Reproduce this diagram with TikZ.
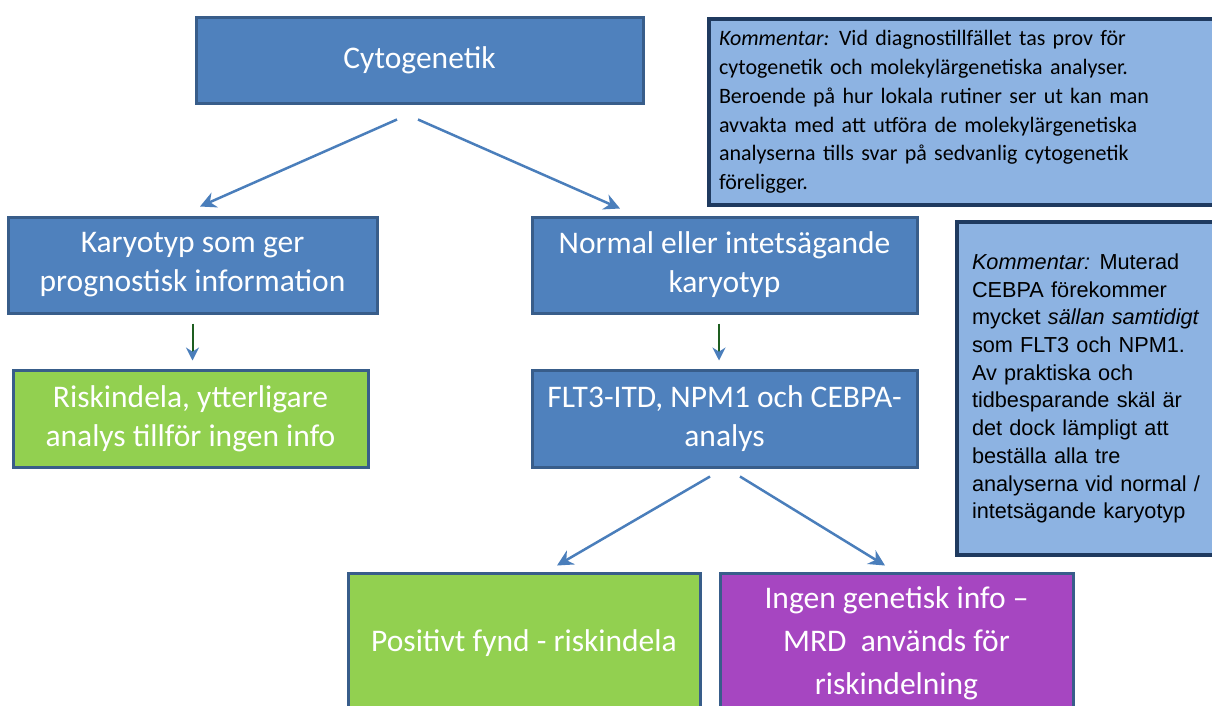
\documentclass[tikz,border=0pt]{standalone}
\usepackage{fontspec}
\setmainfont{Carlito}
\newfontfamily\arialfont{Liberation Sans}
\usetikzlibrary{arrows.meta,calc}
\definecolor{boxblue}{HTML}{4F81BD}
\definecolor{boxedge}{HTML}{385D8A}
\definecolor{noteblue}{HTML}{8DB3E2}
\definecolor{noteedge}{HTML}{1F3A5F}
\definecolor{boxgreen}{HTML}{92D050}
\definecolor{boxpurple}{HTML}{A646C1}
\definecolor{arrowblue}{HTML}{4A7EBB}
\definecolor{stemgreen}{HTML}{1E5E20}
\tikzstyle{box}=[draw=boxedge,line width=3pt,text=white,align=center,inner sep=0pt,font=\fontsize{31.5}{39}\selectfont]
\tikzstyle{blue box}=[box,fill=boxblue]
\tikzstyle{green box}=[box,fill=boxgreen]
\tikzstyle{purple box}=[box,fill=boxpurple]
\tikzstyle{note}=[draw=noteedge,line width=4pt,fill=noteblue,anchor=north west,align=left,inner ysep=0pt]
\tikzstyle{arrow}=[draw=arrowblue,line width=2.5pt,-{Stealth[length=16pt,width=16pt]}]
\tikzstyle{down arrow}=[draw=stemgreen,line width=2pt,-{Stealth[length=13pt,width=13pt,color=arrowblue]}]

\begin{document}
\begin{tikzpicture}[x=1pt,y=-1pt]
    \useasboundingbox (0,0) rectangle (1212,705);
    % flowchart boxes
    \node[blue box,minimum width=447pt,minimum height=86pt] (cyto) at (419.5,60) {Cytogenetik};
    \node[blue box,minimum width=369pt,minimum height=96pt] (karyo) at (192.5,265) {Karyotyp som ger\\prognostisk information};
    \node[blue box,minimum width=385pt,minimum height=96pt] (normal) at (724.5,265) {Normal eller intetsägande\\karyotyp};
    \node[green box,minimum width=355pt,minimum height=97pt] (risk) at (190.5,418.5) {Riskindela, ytterligare\\analys tillför ingen info};
    \node[blue box,minimum width=385pt,minimum height=97pt] (flt) at (724.5,418.5) {FLT3-ITD, NPM1 och CEBPA-\\analys};
    \node[green box,minimum width=352pt,minimum height=140pt] (pos) at (524,643) {Positivt fynd - riskindela};
    \node[purple box,minimum width=353pt,minimum height=140pt,font=\fontsize{31.5}{43}\selectfont] (mrd) at (896.5,643) {Ingen genetisk info --\\MRD\ \ används för\\riskindelning};
    % comments
    \node[note,text width=540pt,inner xsep=10pt,minimum height=186pt,font=\fontsize{22}{28.8}\selectfont] (note1) at (707,17)
        {{\itshape Kommentar:}\hspace{-1.5pt} Vid diagnostillfället tas prov för\\cytogenetik och molekylärgenetiska analyser.\\Beroende på hur lokala rutiner ser ut kan man\\avvakta med att utföra de molekylärgenetiska\\analyserna tills svar på sedvanlig cytogenetik\\föreligger.\\[-6pt]};
    \node[note,text width=280pt,inner xsep=15pt,minimum height=333pt,font=\arialfont\fontsize{21.7}{27.7}\selectfont] (note2) at (955,220)
        {{\itshape Kommentar:}\hspace{-1.5pt} Muterad\\CEBPA förekommer\\mycket {\itshape sällan samtidigt}\\som FLT3 och NPM1.\\Av praktiska och\\tidbesparande skäl är\\det dock lämpligt att\\beställa alla tre\\analyserna vid normal /\\intetsägande karyotyp};
    % connectors
    \foreach \src/\sx/\sy/\dst/\dx/\dy in {cyto/-22.5/15/karyo/7.5/-9, cyto/-1.5/15/normal/-104.5/-7, flt/-14.5/8/pos/33/-6, flt/15.5/8/mrd/-11.5/-6}
        \path[arrow] ($(\src.south)+(\sx,\sy)$) -- ($(\dst.north)+(\dx,\dy)$);
    \foreach \src/\dst/\off in {karyo/risk/0, normal/flt/-5.5}
        \path[down arrow] ($(\src.south)+(\off,9)$) -- ($(\src.south|-\dst.north)+(\off,-8)$);
\end{tikzpicture}
\end{document}
